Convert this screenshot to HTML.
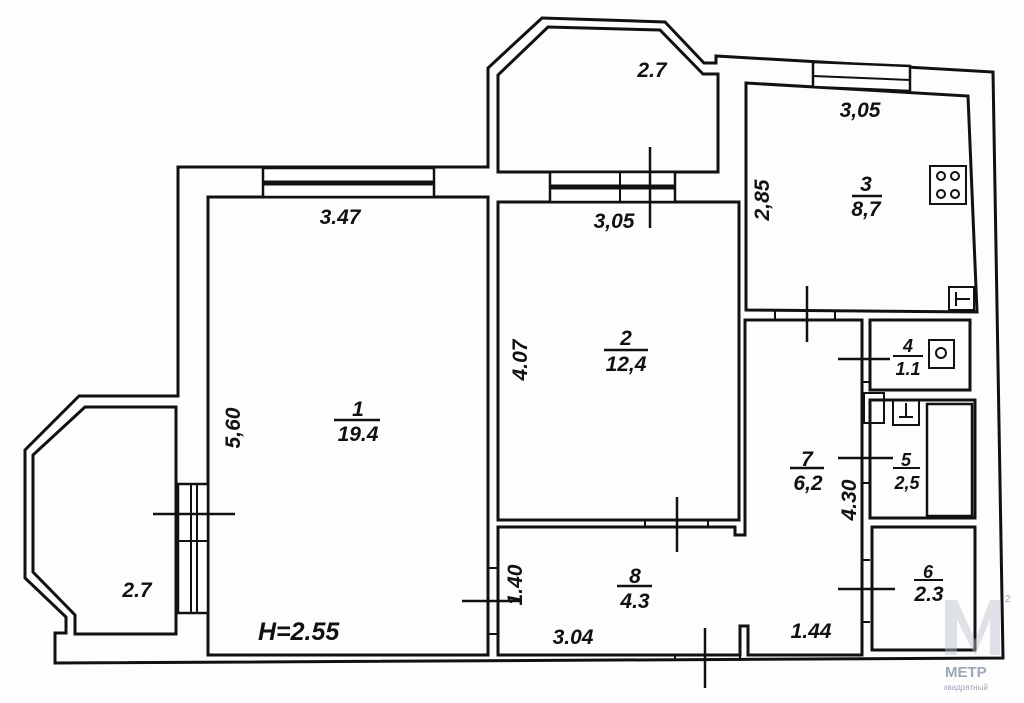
<!DOCTYPE html>
<html><head><meta charset="utf-8"><style>
html,body{margin:0;padding:0;background:#fff}
svg{display:block}
text{font-family:"Liberation Sans",Arial,sans-serif;font-weight:bold;font-style:italic;font-size:21px;fill:#111}
text.s{font-size:18px}
text.h{font-size:25px}
text.wm{font-style:normal;fill:#9aa8b8}
</style></head><body>
<svg width="1024" height="703" viewBox="0 0 1024 703" xmlns="http://www.w3.org/2000/svg">
<rect width="1024" height="703" fill="#fdfdfd"/>
<g fill="none" stroke="#111" stroke-width="3" stroke-linejoin="miter">
<polygon points="178,167 488,167 488,68 542,18 665,22 704,63 716,63 716,56 993,72 1003,658 55,663 55,633 66,633 66,617 25,578 25,450 79,396 178,396"/>
<polygon points="176,407 85,407 33,455 33,572 75,615 75,634 176,634"/>
<rect x="208" y="197" width="280" height="458"/>
<polygon points="498,172 498,75 548,27 660,30 703,74 718,74 718,172"/>
<rect x="498" y="202" width="241" height="318"/>
<polygon points="746,83 968,96 977,312 746,310"/>
<polygon points="498,527 735,527 735,535 745,535 745,320 862,320 862,655 748,655 748,626 740,626 740,655 498,655"/>
<rect x="870" y="320" width="100" height="70"/>
<rect x="870" y="400" width="105" height="118"/>
<rect x="872" y="527" width="103" height="123"/>
</g>
<g stroke="#111" fill="none">
<rect x="263" y="168" width="171" height="29" fill="#fff" stroke-width="2.5"/>
<line x1="263" y1="183" x2="434" y2="183" stroke-width="5"/>
<rect x="550" y="172" width="125" height="30" fill="#fff" stroke-width="2.5"/>
<line x1="550" y1="187" x2="675" y2="187" stroke-width="5"/>
<line x1="620" y1="172" x2="620" y2="202" stroke-width="2"/>
<line x1="650" y1="147" x2="650" y2="228" stroke-width="2.5"/>
<polygon points="813,62 910,66 910,91 813,87" fill="#fff" stroke-width="2.5"/>
<line x1="813" y1="76" x2="910" y2="80" stroke-width="2"/>
<rect x="178" y="484" width="30" height="129" fill="#fff" stroke-width="2.5"/>
<line x1="191" y1="484" x2="191" y2="613" stroke-width="2"/>
<line x1="197" y1="484" x2="197" y2="613" stroke-width="2"/>
<line x1="178" y1="541" x2="208" y2="541" stroke-width="2"/>
<line x1="153" y1="514" x2="235" y2="514" stroke-width="2.5"/>
<line x1="488" y1="568" x2="498" y2="568" stroke-width="2"/>
<line x1="488" y1="634" x2="498" y2="634" stroke-width="2"/>
<line x1="462" y1="601" x2="520" y2="601" stroke-width="2.5"/>
<line x1="645" y1="520" x2="645" y2="527" stroke-width="2"/>
<line x1="708" y1="520" x2="708" y2="527" stroke-width="2"/>
<line x1="677" y1="497" x2="677" y2="552" stroke-width="2.5"/>
<line x1="675" y1="655" x2="675" y2="661" stroke-width="2"/>
<line x1="740" y1="655" x2="740" y2="661" stroke-width="2"/>
<line x1="705" y1="628" x2="705" y2="688" stroke-width="2.5"/>
<line x1="775" y1="310" x2="775" y2="320" stroke-width="2"/>
<line x1="835" y1="310" x2="835" y2="320" stroke-width="2"/>
<line x1="807" y1="286" x2="807" y2="342" stroke-width="2.5"/>
<line x1="838" y1="359" x2="890" y2="359" stroke-width="2.5"/>
<line x1="838" y1="458" x2="893" y2="458" stroke-width="2.5"/>
<line x1="838" y1="589" x2="895" y2="589" stroke-width="2.5"/>
<line x1="862" y1="382" x2="870" y2="382" stroke-width="2"/>
<line x1="862" y1="483" x2="870" y2="483" stroke-width="2"/>
<line x1="862" y1="560" x2="870" y2="560" stroke-width="2"/>
<line x1="862" y1="622" x2="870" y2="622" stroke-width="2"/>
<rect x="930" y="166" width="36" height="38" stroke-width="2"/>
<circle cx="941" cy="176" r="4" stroke-width="2"/><circle cx="955" cy="176" r="4" stroke-width="2"/>
<circle cx="941" cy="194" r="4" stroke-width="2"/><circle cx="955" cy="194" r="4" stroke-width="2"/>
<rect x="949" y="287" width="25" height="23" stroke-width="2"/>
<line x1="956" y1="292" x2="956" y2="306" stroke-width="2"/><line x1="956" y1="299" x2="970" y2="299" stroke-width="2"/>
<rect x="929" y="340" width="25" height="28" stroke-width="2"/>
<circle cx="941" cy="353" r="5" stroke-width="2"/>
<rect x="864" y="393" width="20" height="30" stroke-width="2"/>
<rect x="893" y="400" width="26" height="25" stroke-width="2"/>
<line x1="906" y1="403" x2="906" y2="417" stroke-width="2"/><line x1="899" y1="417" x2="913" y2="417" stroke-width="2"/>
<rect x="927" y="404" width="45" height="112" stroke-width="2.5"/>
</g>
<text x="340" y="224" text-anchor="middle">3.47</text>
<text x="614" y="228" text-anchor="middle">3,05</text>
<text x="860" y="117" text-anchor="middle">3,05</text>
<text x="652" y="77" text-anchor="middle">2.7</text>
<text x="137" y="597" text-anchor="middle">2.7</text>
<text class="h" x="258" y="640">H=2.55</text>
<text x="358" y="416" text-anchor="middle">1</text>
<line x1="334" y1="420" x2="380" y2="420" stroke="#111" stroke-width="2.5"/>
<text x="358" y="441" text-anchor="middle">19.4</text>
<text x="626" y="345" text-anchor="middle">2</text>
<line x1="604" y1="350" x2="648" y2="350" stroke="#111" stroke-width="2.5"/>
<text x="626" y="371" text-anchor="middle">12,4</text>
<text x="866" y="191" text-anchor="middle">3</text>
<line x1="852" y1="196" x2="882" y2="196" stroke="#111" stroke-width="2.5"/>
<text x="866" y="216" text-anchor="middle">8,7</text>
<text class="s" x="908" y="352" text-anchor="middle">4</text>
<line x1="893" y1="356" x2="923" y2="356" stroke="#111" stroke-width="2"/>
<text class="s" x="908" y="375" text-anchor="middle">1.1</text>
<text x="807" y="466" text-anchor="middle">7</text>
<line x1="790" y1="468" x2="824" y2="468" stroke="#111" stroke-width="2.5"/>
<text x="808" y="490" text-anchor="middle">6,2</text>
<text class="s" x="906" y="466" text-anchor="middle">5</text>
<line x1="893" y1="468" x2="920" y2="468" stroke="#111" stroke-width="2"/>
<text class="s" x="907" y="489" text-anchor="middle">2,5</text>
<text class="s" x="928" y="578" text-anchor="middle">6</text>
<line x1="914" y1="580" x2="943" y2="580" stroke="#111" stroke-width="2"/>
<text x="929" y="601" text-anchor="middle">2.3</text>
<text x="635" y="583" text-anchor="middle">8</text>
<line x1="617" y1="586" x2="652" y2="586" stroke="#111" stroke-width="2.5"/>
<text x="635" y="608" text-anchor="middle">4.3</text>
<text x="573" y="644" text-anchor="middle">3.04</text>
<text x="811" y="638" text-anchor="middle">1.44</text>
<text transform="translate(240,428) rotate(-90)" text-anchor="middle">5,60</text>
<text transform="translate(527,360) rotate(-90)" text-anchor="middle">4.07</text>
<text transform="translate(769,200) rotate(-90)" text-anchor="middle">2,85</text>
<text transform="translate(522,585) rotate(-90)" text-anchor="middle">1.40</text>
<text transform="translate(856,500) rotate(-90)" text-anchor="middle">4.30</text>
<g opacity="0.45" fill="#b8c2cc">
<polygon points="945,600 957,600 975,640 990,600 1000,600 1000,655 990,655 990,620 975,655 957,620 957,655 945,655"/>
</g>
<text class="wm" x="945" y="677" style="font-size:15px">МЕТР</text>
<text class="wm" x="944" y="690" style="font-size:8px;font-weight:normal">квадратный</text>
<text class="wm" x="1005" y="602" style="font-size:10px;font-weight:normal">2</text>
</svg>
</body></html>
